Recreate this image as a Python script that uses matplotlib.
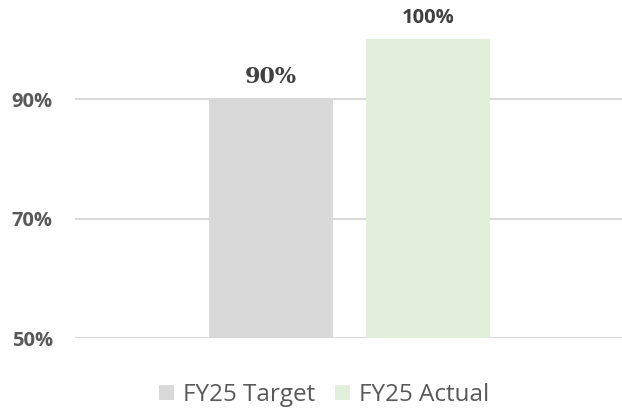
import numpy as np
import matplotlib.pyplot as plt

# data
series = ["FY25 Target", "FY25 Actual"]
values = [90, 100]
value_labels = ["90%", "100%"]
colors = ["#D9D9D9", "#E2EFDA"]
yticks = [50, 70, 90]
ytick_labels = ["50%", "70%", "90%"]

W, H = 622, 411
fig = plt.figure(figsize=(W / 100, H / 100), dpi=100)
# plot area in pixel terms of the reference
ax = fig.add_axes([75 / W, (H - 338) / H, (W - 75) / W, (338 - 10) / H])

bar_w = 0.35
offsets = [-0.2216, 0.2216]
for i in range(len(series)):
    ax.bar(offsets[i], values[i] - 50, bottom=50, width=bar_w, color=colors[i],
           label=series[i], zorder=3)

ax.set_xlim(-0.775, 0.769)
ax.set_ylim(50, 104.9)
ax.set_yticks(yticks)
ax.set_yticklabels(ytick_labels, fontfamily="Open Sans", fontweight="bold",
                   fontsize=14.5, color="#595959")
ax.tick_params(axis="y", length=0, pad=16)
ax.set_xticks([])
ax.grid(axis="y", color="#D9D9D9", linewidth=1.5, zorder=0)
for s in ax.spines.values():
    s.set_visible(False)

# data labels
ax.annotate(value_labels[0], (offsets[0], values[0]), xytext=(0, 11.5),
            textcoords="offset points", ha="center", va="baseline",
            fontfamily="DejaVu Serif", fontweight="bold", fontsize=16, color="#404040")
ax.annotate(value_labels[1], (offsets[1], values[1]), xytext=(0, 12),
            textcoords="offset points", ha="center", va="baseline",
            fontfamily="Open Sans", fontweight="bold", fontsize=14.5, color="#404040")

leg = fig.legend(loc="center", bbox_to_anchor=(324 / W, (H - 395) / H), ncol=2,
                 frameon=False, prop={"family": "Open Sans", "size": 17.5},
                 handlelength=0.62, handleheight=0.62, handletextpad=0.37,
                 columnspacing=0.8, borderpad=0)
for t in leg.get_texts():
    t.set_color("#595959")

fig.savefig("out.png", dpi=100)
